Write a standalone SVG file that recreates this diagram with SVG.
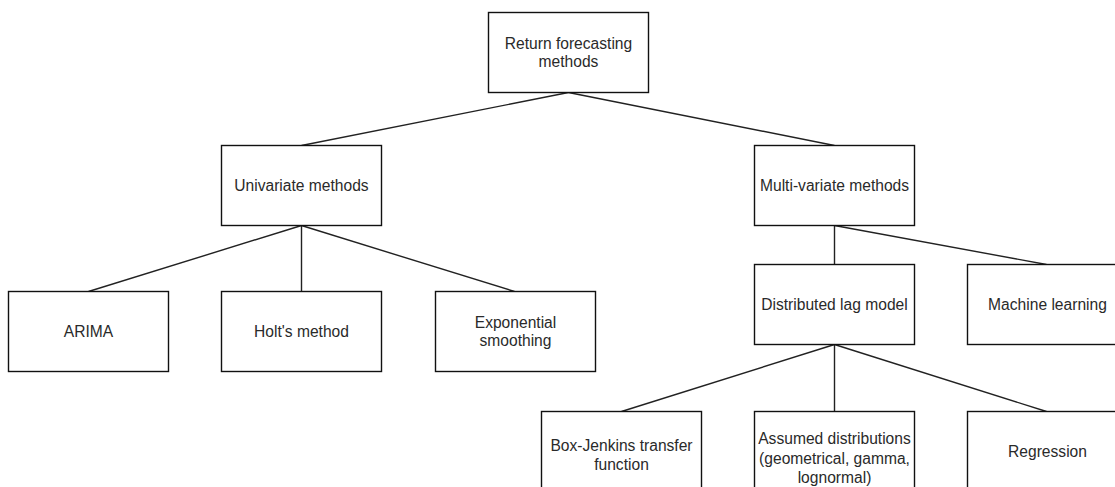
<svg xmlns="http://www.w3.org/2000/svg" width="1115" height="487" viewBox="0 0 1115 487">
  <style>
    .box { fill: #ffffff; stroke: #111111; stroke-width: 1.4; }
    .edge { fill: none; stroke: #222222; stroke-width: 1.4; }
    .lbl { font-family: "Liberation Sans", Arial, sans-serif; font-size: 15.6px; fill: #2a2a2a; text-anchor: middle; }
  </style>
  <rect width="1115" height="487" fill="#ffffff"/>

  <!-- tree connectors: parent bottom-centre to child top-centre -->
  <g id="connectors">
    <line class="edge" x1="568.5" y1="92.5" x2="301.5" y2="145.5"/>
    <line class="edge" x1="568.5" y1="92.5" x2="834.5" y2="145.5"/>
    <line class="edge" x1="301.5" y1="225.5" x2="88.5" y2="291.5"/>
    <line class="edge" x1="301.5" y1="225.5" x2="301.5" y2="291.5"/>
    <line class="edge" x1="301.5" y1="225.5" x2="514.5" y2="291.5"/>
    <line class="edge" x1="834.5" y1="225.5" x2="834.5" y2="264.5"/>
    <line class="edge" x1="834.5" y1="225.5" x2="1046.5" y2="264.5"/>
    <line class="edge" x1="834.5" y1="344.5" x2="621.5" y2="411.5"/>
    <line class="edge" x1="834.5" y1="344.5" x2="834.5" y2="411.5"/>
    <line class="edge" x1="834.5" y1="344.5" x2="1046.5" y2="411.5"/>
  </g>

  <g id="root">
    <rect class="box" x="488.5" y="12.5" width="160" height="80"/>
    <text class="lbl" x="568.5" y="49">Return forecasting</text>
    <text class="lbl" x="568.5" y="67">methods</text>
  </g>

  <g id="univariate">
    <rect class="box" x="221.5" y="145.5" width="160" height="80"/>
    <text class="lbl" x="301.5" y="191">Univariate methods</text>
  </g>

  <g id="multivariate">
    <rect class="box" x="754.5" y="145.5" width="160" height="80"/>
    <text class="lbl" x="834.5" y="191">Multi-variate methods</text>
  </g>

  <g id="arima">
    <rect class="box" x="8.5" y="291.5" width="160" height="80"/>
    <text class="lbl" x="88.5" y="337">ARIMA</text>
  </g>

  <g id="holt">
    <rect class="box" x="221.5" y="291.5" width="160" height="80"/>
    <text class="lbl" x="301.5" y="337">Holt's method</text>
  </g>

  <g id="exponential">
    <rect class="box" x="435.5" y="291.5" width="160" height="80"/>
    <text class="lbl" x="515.5" y="328">Exponential</text>
    <text class="lbl" x="515.5" y="346">smoothing</text>
  </g>

  <g id="distributed-lag">
    <rect class="box" x="754.5" y="264.5" width="160" height="80"/>
    <text class="lbl" x="834.5" y="310">Distributed lag model</text>
  </g>

  <g id="machine-learning">
    <rect class="box" x="967.5" y="264.5" width="160" height="80"/>
    <text class="lbl" x="1047.5" y="310">Machine learning</text>
  </g>

  <g id="box-jenkins">
    <rect class="box" x="541.5" y="411.5" width="160" height="80"/>
    <text class="lbl" x="621.5" y="451">Box-Jenkins transfer</text>
    <text class="lbl" x="621.5" y="470">function</text>
  </g>

  <g id="assumed-distributions">
    <rect class="box" x="754.5" y="411.5" width="160" height="80"/>
    <text class="lbl" x="834.5" y="444">Assumed distributions</text>
    <text class="lbl" x="834.5" y="464">(geometrical, gamma,</text>
    <text class="lbl" x="834.5" y="483">lognormal)</text>
  </g>

  <g id="regression">
    <rect class="box" x="967.5" y="411.5" width="160" height="80"/>
    <text class="lbl" x="1047.5" y="457">Regression</text>
  </g>
</svg>
